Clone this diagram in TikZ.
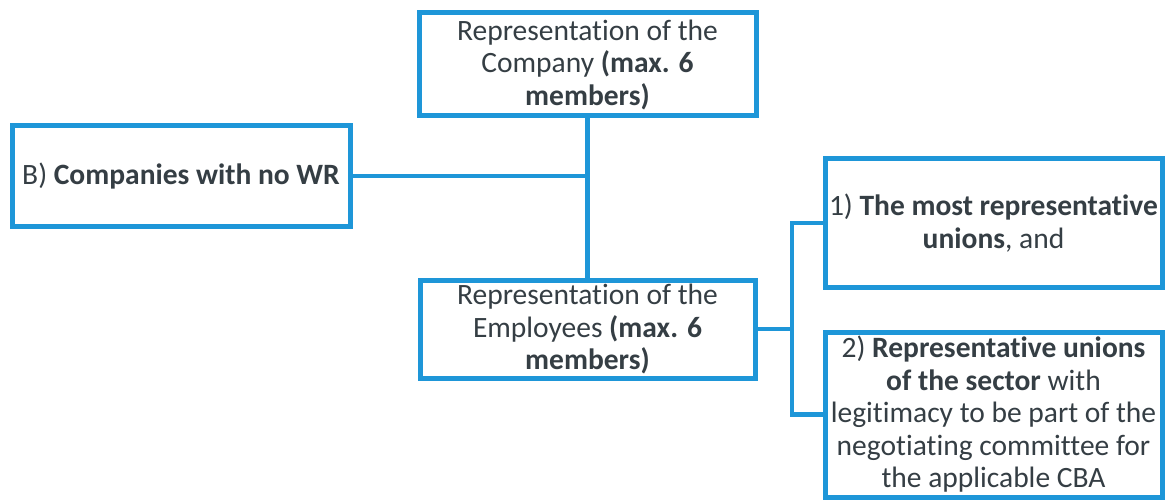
\documentclass[tikz,border=0pt]{standalone}
\usepackage{fontspec}
\setmainfont[Ligatures=NoCommon]{Carlito}
\definecolor{boxblue}{HTML}{1E96D8}
\definecolor{txt}{HTML}{353E44}
\begin{document}
\begin{tikzpicture}[x=1pt,y=-1pt,
  box/.style={draw=boxblue,line width=5pt,fill=white,align=center,text=txt,
    font=\fontsize{29.5}{32.5}\selectfont,inner sep=0pt},
  conn/.style={draw=boxblue,line width=4.5pt}]
\useasboundingbox (0,0) rectangle (1168,500);
\node[box,minimum width=337pt,minimum height=103pt] (top) at (587.5,64.5)
  {Representation of the\\Company \textbf{(max. 6}\\\textbf{members)}};
\node[box,minimum width=338pt,minimum height=100pt] (b) at (181,176)
  {B) \textbf{Companies with no WR}};
\node[box,minimum width=335pt,minimum height=98pt] (emp) at (587.5,329)
  {Representation of the\\Employees \textbf{(max. 6}\\\textbf{members)}};
\node[box,minimum width=337pt,minimum height=128pt] (u1) at (993.5,223)
  {1) \textbf{The most representative}\\\textbf{unions}, and};
\node[box,minimum width=337pt,minimum height=165pt] (u2) at (993.5,414.5)
  {2) \textbf{Representative unions}\\\textbf{of the sector} with\\legitimacy to be part of the\\negotiating committee for\\the applicable CBA};
\coordinate (j) at (792,329);
\draw[conn] (top.south) -- (emp.north);
\draw[conn] (b.east) -- (b.east -| top.south);
\draw[conn] (emp.east) -- (j);
\draw[conn] (u1.west) -- (u1.west -| j) -- (u2.west -| j) -- (u2.west);
\end{tikzpicture}
\end{document}
